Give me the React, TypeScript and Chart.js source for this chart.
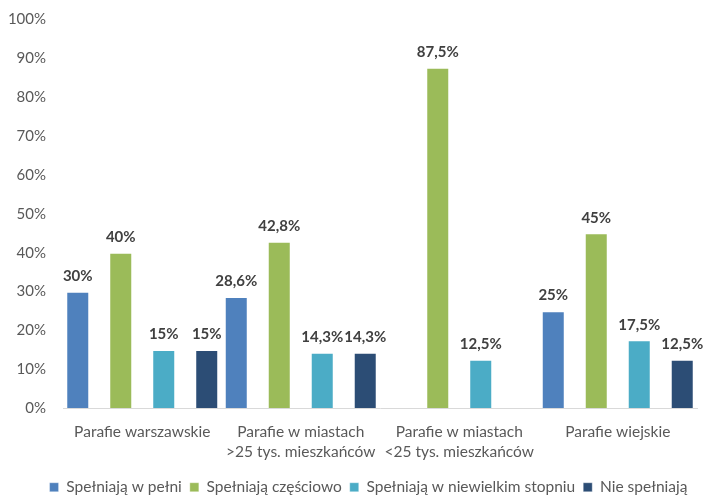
import React, { useEffect, useRef } from "react";
import { Chart, registerables } from "chart.js";

Chart.register(...registerables);

const categories: (string | string[])[] = [
  "Parafie warszawskie",
  ["Parafie w miastach", ">25 tys. mieszkańców"],
  ["Parafie w miastach", "<25 tys. mieszkańców"],
  "Parafie wiejskie",
];
const seriesNames = [
  "Spełniają w pełni",
  "Spełniają częściowo",
  "Spełniają w niewielkim stopniu",
  "Nie spełniają",
];
const pelni: (number | null)[] = [30, 28.6, null, 25];
const czesciowo: (number | null)[] = [40, 42.8, 87.5, 45];
const niewielkim: (number | null)[] = [15, 14.3, 12.5, 17.5];
const nie: (number | null)[] = [15, 14.3, null, 12.5];
const colors = ["#4F81BD", "#9BBB59", "#4BACC6", "#2C4D75"];
const FONT = "Lato, 'Open Sans', sans-serif";

const fmt = (v: number) => String(v).replace(".", ",") + "%";

const labelPlugin = {
  id: "barLabels",
  afterLayout(chart: any) {
    const lg = chart.legend;
    if (lg) {
      lg.left += 20;
      lg.right += 20;
    }
  },
  afterDatasetsDraw(chart: any) {
    const ctx = chart.ctx;
    ctx.save();
    ctx.font = `bold 15px ${FONT}`;
    ctx.fillStyle = "#404040";
    ctx.textAlign = "center";
    ctx.textBaseline = "bottom";
    chart.data.datasets.forEach((ds: any, i: number) => {
      const meta = chart.getDatasetMeta(i);
      meta.data.forEach((el: any, j: number) => {
        const v = ds.data[j];
        if (v === null || v === undefined) return;
        ctx.fillText(fmt(v), el.x, el.y - 8);
      });
    });
    ctx.restore();
  },
};

export default function App() {
  const ref = useRef<HTMLCanvasElement>(null);
  useEffect(() => {
    if (!ref.current) return;
    const data = [pelni, czesciowo, niewielkim, nie];
    const chart = new Chart(ref.current, {
      type: "bar",
      data: {
        labels: categories,
        datasets: data.map((d, i) => ({
          label: seriesNames[i],
          data: d,
          backgroundColor: colors[i],
          borderColor: "rgba(255,255,255,0.35)",
          borderWidth: 1,
          categoryPercentage: 1.085,
          barPercentage: 0.535,
        })),
      },
      options: {
        animation: false,
        responsive: false,
        maintainAspectRatio: false,
        layout: { padding: { top: 6, right: 9, left: 0, bottom: -8 } },
        scales: {
          x: {
            grid: { display: false, drawTicks: false },
            border: { display: true, color: "#D9D9D9", width: 1 },
            ticks: {
              color: "#595959",
              font: { family: FONT, size: 15.5, lineHeight: 1.25 },
              padding: 14,
              maxRotation: 0,
              autoSkip: false,
            },
            afterFit: (s: any) => {
              s.height = 63;
            },
          },
          y: {
            min: 0,
            max: 100,
            grid: {
              display: true,
              drawOnChartArea: false,
              drawTicks: true,
              tickLength: 7,
              color: "rgba(0,0,0,0)",
            },
            border: { display: false },
            ticks: {
              stepSize: 10,
              color: "#595959",
              font: { family: FONT, size: 15 },
              padding: 10,
              callback: (v: any) => v + "%",
            },
            afterFit: (s: any) => {
              s.width = 63;
            },
          },
        },
        plugins: {
          legend: {
            position: "bottom",
            labels: {
              boxWidth: 9,
              boxHeight: 9,
              color: "#595959",
              font: { family: FONT, size: 15.5 },
              padding: 8,
            },
          },
          tooltip: { enabled: false },
        },
      },
      plugins: [labelPlugin],
    });
    return () => chart.destroy();
  }, []);
  return (
    <div style={{ position: "absolute", left: 0, top: 0, width: 706, height: 497, background: "#fff" }}>
      <canvas ref={ref} width={706} height={497} />
    </div>
  );
}
